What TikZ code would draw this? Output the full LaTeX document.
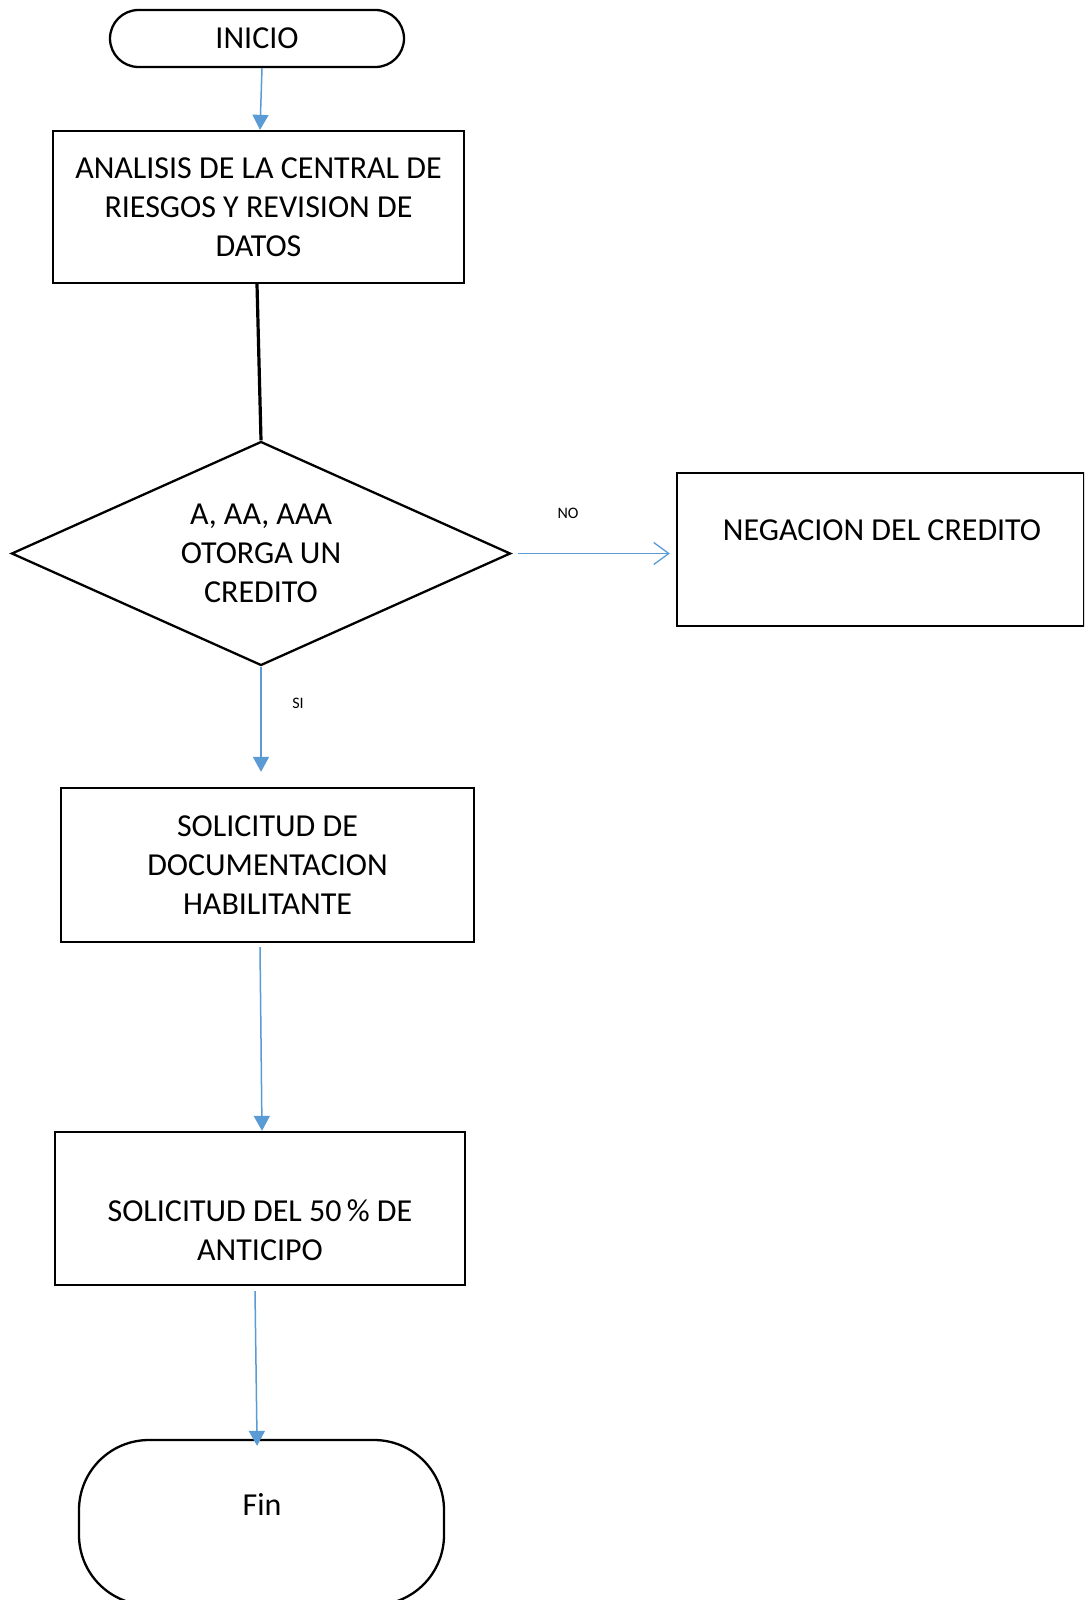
\documentclass[tikz,border=0pt]{standalone}
\usepackage{fontspec}
\setmainfont{Carlito}
\usetikzlibrary{shapes.geometric,arrows.meta}
\definecolor{flowblue}{HTML}{5B9BD5}
\begin{document}
\begin{tikzpicture}[x=1pt,y=-1pt,
  txt/.style={font=\fontsize{32}{39}\selectfont, text=black, align=center, inner sep=0pt},
  small/.style={font=\fontsize{16}{18}\selectfont, text=black, inner sep=0pt},
  box/.style={draw=black, line width=2.3pt, inner sep=0pt, align=center,
    font=\fontsize{32}{39}\selectfont},
  flow/.style={draw=flowblue, line width=1.5pt, -{Triangle[width=16pt,length=15pt]}},
  openflow/.style={draw=flowblue, line width=1.3pt, -{Straight Barb[length=15pt,width=22pt]}},
]
% page frame
\clip (0,0) rectangle (1084,1600);
\fill[white] (0,0) rectangle (1084,1600);

% terminals, process boxes and decision
\node[box, rounded corners=28.5pt, minimum width=294pt, minimum height=57pt]
  (inicio) at (257,38.5) {INICIO};
\node[box, minimum width=411pt, minimum height=152pt]
  (analisis) at (258.5,207) {ANALISIS DE LA CENTRAL DE\\RIESGOS Y REVISION DE\\DATOS};
\node[box, diamond, aspect=2.2, minimum width=499pt, minimum height=224pt]
  (decide) at (261,553.5) {A, AA, AAA\\OTORGA UN\\CREDITO};
\node[box, minimum width=407pt, minimum height=153pt]
  (negacion) at (880.5,549.5) {};
\node[txt] (negtext) at (882,530) {NEGACION DEL CREDITO};
\node[box, minimum width=413pt, minimum height=154pt]
  (docs) at (267.5,865) {SOLICITUD DE\\DOCUMENTACION\\HABILITANTE};
\node[box, minimum width=410pt, minimum height=153pt]
  (anticipo) at (260,1208.5) {};
\node[txt] (antext) at (260,1230) {SOLICITUD DEL 50\,\% DE\\ANTICIPO};
\node[box, rounded corners=70pt, minimum width=365pt, minimum height=165pt]
  (fin) at (261.5,1522.5) {};
\node[txt] (fintext) at (262,1504.5) {Fin};

% branch labels
\node[small] (nolabel) at (568,513) {NO};
\node[small] (silabel) at (298,703) {SI};

% connectors
\draw[flow] ([xshift=5pt]inicio.south) -- ([xshift=1.5pt]analisis.north);
\draw[line width=3.2pt, draw=black] ([xshift=-1.5pt]analisis.south) -- (decide.north);
\draw[openflow, shorten <=6pt, shorten >=6pt]
  (decide.east) -- (decide.east -| negacion.west);
\draw[flow, shorten >=15pt] (decide.south) -- (decide.south |- docs.north);
\draw[flow] ([xshift=-7.5pt,yshift=-4pt]docs.south) -- ([xshift=2pt]anticipo.north);
\draw[flow, shorten >=-7pt] ([xshift=-5pt,yshift=-5pt]anticipo.south) -- ([xshift=-4.5pt]fin.north);
\end{tikzpicture}
\end{document}
